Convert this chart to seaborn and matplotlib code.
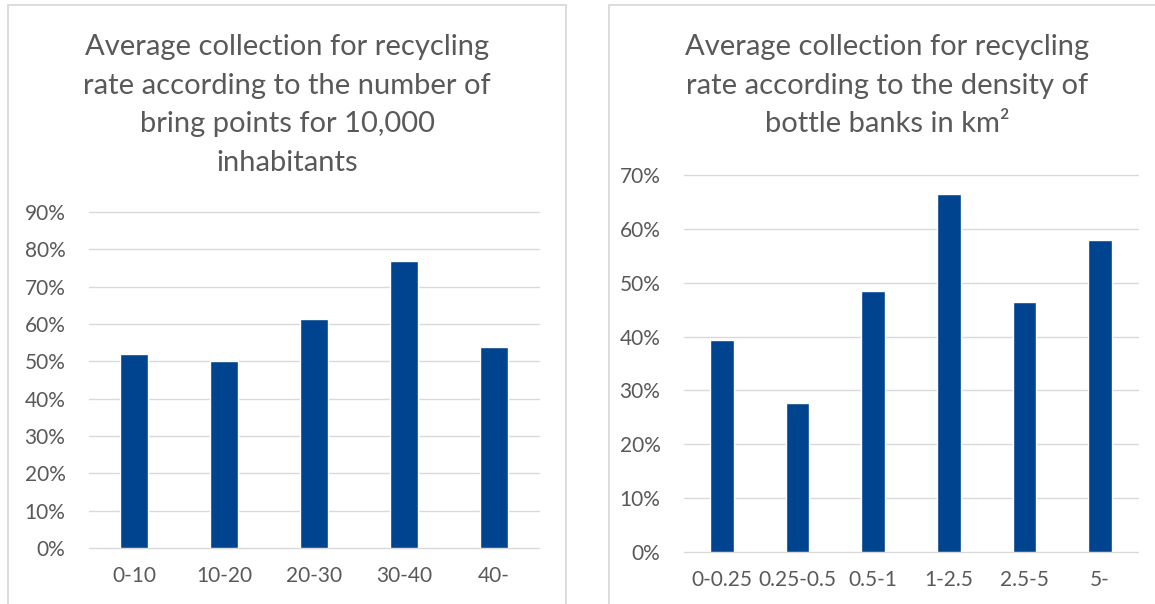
import matplotlib
matplotlib.use('Agg')
import matplotlib.pyplot as plt
import seaborn as sns
import pandas as pd
from matplotlib.patches import Rectangle
from matplotlib.ticker import PercentFormatter, MultipleLocator

# data
points_groups = ['0-10', '10-20', '20-30', '30-40', '40-']
points_rates = [0.520, 0.502, 0.613, 0.770, 0.538]

density_groups = ['0-0.25', '0.25-0.5', '0.5-1', '1-2.5', '2.5-5', '5-']
density_rates = [0.393, 0.276, 0.484, 0.665, 0.464, 0.579]

title_left = 'Average collection for recycling\nrate according to the number of\nbring points for 10,000\ninhabitants'
title_right = 'Average collection for recycling\nrate according to the density of\nbottle banks in km²'

bar_color = '#00448F'
text_color = '#595959'
grid_color = '#D9D9D9'

sns.set_style('white')
plt.rcParams['font.family'] = ['Lato', 'DejaVu Sans']

fig = plt.figure(figsize=(11.55, 6.04), dpi=100)

# panel frames like the Excel chart areas
fig.patches.append(Rectangle((8 / 1155, -0.1), 558 / 1155, 1.1 - 5 / 604,
                             transform=fig.transFigure, fill=False,
                             edgecolor=grid_color, linewidth=1.3))
fig.patches.append(Rectangle((609 / 1155, -0.1), 0.5, 1.1 - 5 / 604,
                             transform=fig.transFigure, fill=False,
                             edgecolor=grid_color, linewidth=1.3))

ax1 = fig.add_axes([89 / 1155, 56 / 604, 450 / 1155, 336 / 604])
ax2 = fig.add_axes([684 / 1155, 52 / 604, 454 / 1155, 377 / 604])

df1 = pd.DataFrame({'group': points_groups, 'rate': points_rates})
df2 = pd.DataFrame({'group': density_groups, 'rate': density_rates})

sns.barplot(data=df1, x='group', y='rate', ax=ax1, color=bar_color,
            width=0.31, saturation=1, errorbar=None)
sns.barplot(data=df2, x='group', y='rate', ax=ax2, color=bar_color,
            width=0.31, saturation=1, errorbar=None)

for ax, top in [(ax1, 0.9), (ax2, 0.7)]:
    ax.set_ylim(0, top)
    ax.yaxis.set_major_locator(MultipleLocator(0.1))
    ax.yaxis.set_major_formatter(PercentFormatter(1.0, decimals=0))
    ax.grid(axis='y', color=grid_color, linewidth=1.0)
    ax.set_axisbelow(True)
    for s in ax.spines.values():
        s.set_visible(False)
    ax.set_xlabel('')
    ax.set_ylabel('')
    ax.tick_params(axis='y', length=0, pad=17, labelsize=15, labelcolor=text_color)
    ax.tick_params(axis='x', length=0, pad=13, labelsize=15, labelcolor=text_color)
    for line in ax.get_ygridlines():
        line.set_clip_on(False)

fig.text(287 / 1155, 1 - 34 / 604, title_left, ha='center', va='top',
         fontsize=21, color=text_color, linespacing=1.6)
fig.text(887 / 1155, 1 - 34 / 604, title_right, ha='center', va='top',
         fontsize=21, color=text_color, linespacing=1.6)

fig.savefig('out.png', dpi=100)
